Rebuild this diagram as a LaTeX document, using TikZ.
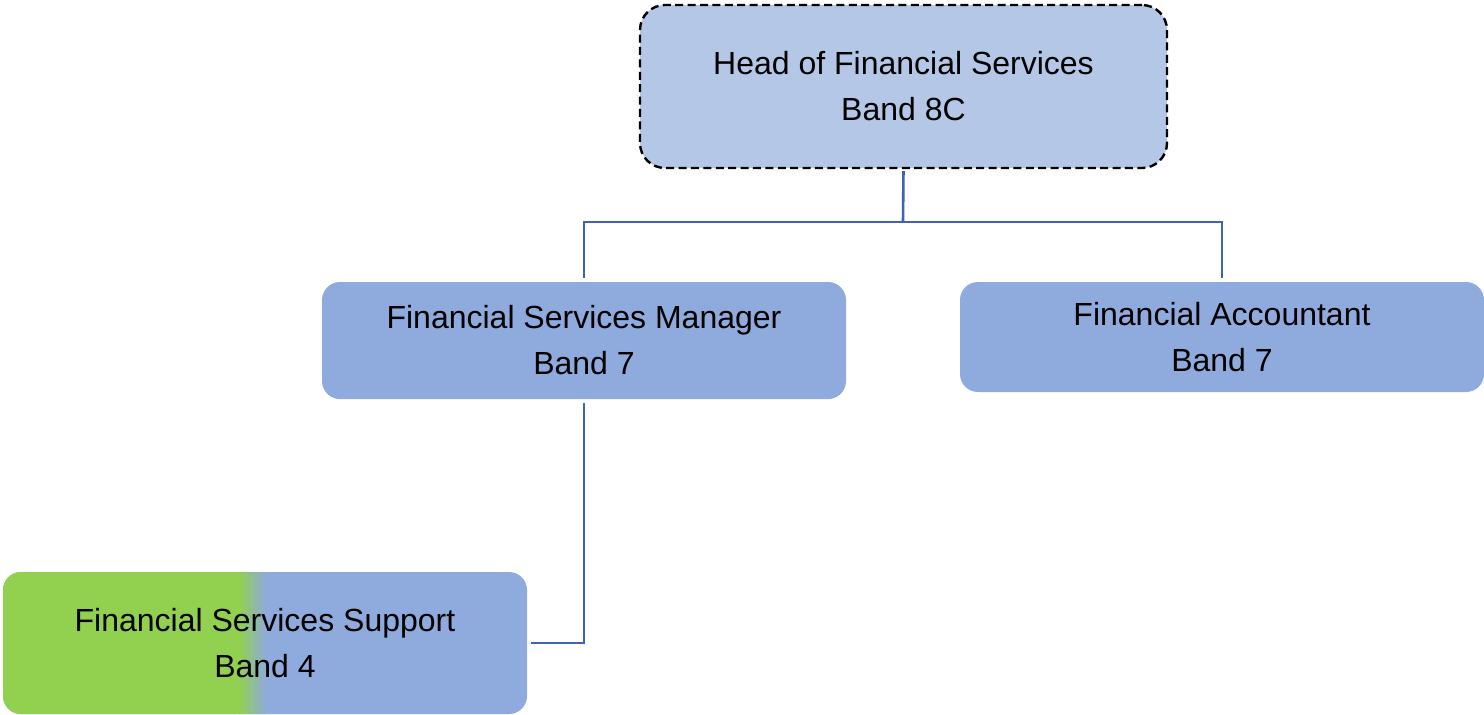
\documentclass[tikz,border=0pt]{standalone}
\usepackage{fontspec}
\setmainfont{Liberation Sans}
\definecolor{topfill}{RGB}{180,199,231}
\definecolor{boxfill}{RGB}{143,170,220}
\definecolor{greenfill}{RGB}{146,208,80}
\definecolor{conncol}{RGB}{62,100,175}
\begin{document}
\begin{tikzpicture}[x=0.5pt,y=-0.5pt,
  box/.style={rectangle, rounded corners=9pt, inner sep=0pt, align=center,
    font=\fontsize{16pt}{23pt}\selectfont, text=black},
  conn/.style={draw=conncol, line width=1.3pt}]
\useasboundingbox (0,0) rectangle (1484,714);
\node[box, fill=topfill, draw=black, line width=1.2pt, dash pattern=on 4pt off 2.2pt,
  rounded corners=12.5pt, minimum width=263.5pt, minimum height=81.5pt]
  (top) at (903.5,86.5) {Head of Financial Services\\Band 8C};
\node[box, fill=boxfill, minimum width=262pt, minimum height=58.5pt]
  (mgr) at (584,340.5) {Financial Services Manager\\Band 7};
\node[box, fill=boxfill, minimum width=262pt, minimum height=55pt]
  (acc) at (1222,337) {Financial Accountant\\Band 7};
\node[box, fill=boxfill, minimum width=262pt, minimum height=71pt,
  path picture={
    \fill[greenfill, sharp corners] ([xshift=-2pt,yshift=-2pt]path picture bounding box.south west)
      rectangle ([xshift=118.5pt,yshift=2pt]path picture bounding box.north west);
    \shade[left color=greenfill, right color=boxfill, sharp corners]
      ([xshift=118pt,yshift=-2pt]path picture bounding box.south west)
      rectangle ([xshift=131.5pt,yshift=2pt]path picture bounding box.north west);
  }]
  (sup) at (265,643) {Financial Services Support\\Band 4};
\coordinate (bus) at (903,222);
\draw[conn, shorten <=1pt] (top.south) -- (bus);
\draw[conn, shorten >=2pt] (bus) -| (mgr.north);
\draw[conn, shorten >=2pt] (bus) -| (acc.north);
\draw[conn, shorten <=2pt, shorten >=2pt] (mgr.south) |- (sup.east);
\end{tikzpicture}
\end{document}
